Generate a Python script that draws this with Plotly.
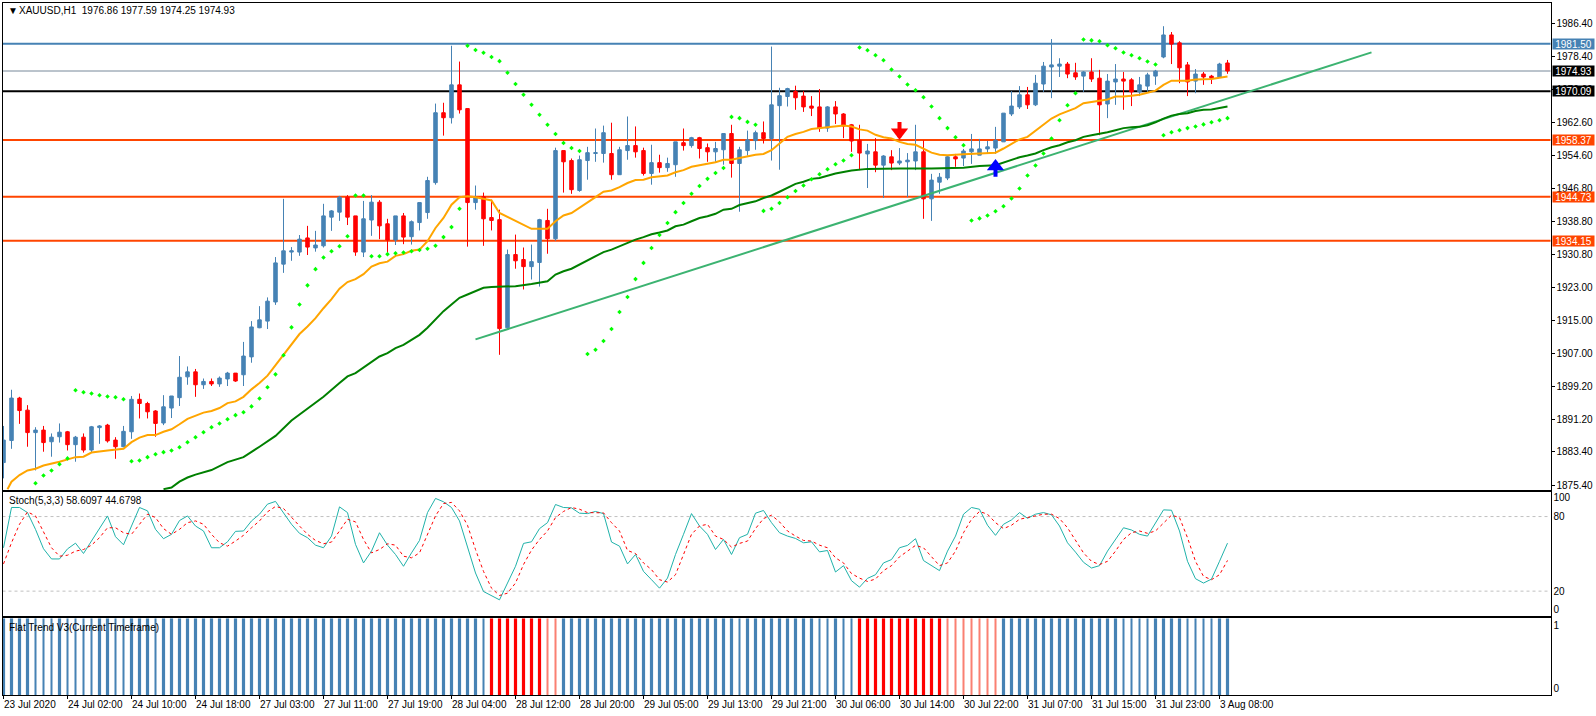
import plotly.graph_objects as go

open_ = [1880.8,1886.1,1896.3,1893.4,1888.0,1888.6,1885.8,1887.0,1888.2,1885.1,
1886.9,1883.8,1889.2,1889.8,1886.2,1884.6,1888.2,1896.0,1895.0,1893.2,
1890.3,1893.9,1896.4,1901.4,1902.6,1899.5,1900.3,1899.7,1900.9,1902.3,
1901.9,1906.2,1913.2,1914.8,1919.4,1928.5,1931.4,1931.4,1934.8,1932.4,
1932.9,1939.8,1941.0,1944.6,1940.1,1931.4,1939.1,1943.4,1938.2,1934.3,
1940.1,1935.1,1938.5,1940.9,1948.1,1964.9,1963.7,1971.6,1965.9,1943.3,
1944.7,1939.7,1939.2,1913.2,1930.8,1929.6,1927.9,1928.9,1939.0,1934.6,
1955.8,1953.4,1946.2,1953.4,1955.1,1955.1,1955.1,1950.0,1955.8,1957.0,
1955.8,1950.3,1952.9,1951.7,1952.4,1957.7,1957.0,1958.9,1956.5,1955.5,
1956.0,1959.9,1952.7,1955.8,1958.2,1960.1,1958.7,1966.6,1968.8,1970.0,
1968.9,1966.5,1966.3,1961.2,1966.3,1964.6,1962.0,1958.3,1955.0,1955.5,
1952.3,1954.3,1952.8,1953.1,1953.3,1955.5,1944.2,1948.2,1949.2,1954.3,
1954.0,1955.5,1954.7,1956.2,1956.4,1957.9,1964.6,1966.3,1969.2,1966.8,
1971.8,1975.9,1976.1,1976.6,1974.5,1973.7,1974.7,1973.2,1967.0,1972.3,
1973.0,1972.8,1969.9,1971.3,1973.7,1978.3,1983.6,1981.7,1976.4,1972.5,
1974.2,1973.7,1973.5,1976.86]
close = [1886.2,1896.3,1893.3,1888.0,1888.6,1885.6,1886.9,1888.1,1885.1,1886.9,
1883.8,1889.4,1889.6,1886.0,1884.6,1888.3,1896.0,1895.0,1893.0,1890.2,
1894.2,1896.8,1901.3,1902.6,1899.5,1900.3,1899.7,1901.1,1902.3,1900.4,
1906.4,1913.4,1915.1,1919.6,1928.8,1931.7,1931.7,1934.5,1932.6,1933.1,
1940.1,1941.3,1944.6,1939.8,1931.4,1939.4,1943.4,1937.7,1934.3,1940.1,
1935.0,1938.7,1943.3,1948.6,1964.9,1963.7,1971.6,1965.6,1943.3,1944.5,
1939.4,1939.0,1913.0,1930.8,1929.3,1927.9,1929.1,1939.2,1934.6,1955.8,
1953.1,1946.4,1953.6,1955.3,1955.3,1960.1,1950.0,1956.0,1957.0,1955.5,
1950.3,1952.9,1951.7,1952.7,1957.9,1957.0,1958.9,1956.3,1955.5,1956.3,
1959.9,1952.7,1956.0,1958.4,1960.1,1958.7,1966.8,1969.0,1970.7,1968.5,
1966.3,1966.0,1961.2,1966.3,1964.6,1961.7,1958.1,1955.2,1955.7,1952.3,
1954.5,1952.8,1953.3,1953.5,1955.5,1944.2,1948.7,1949.4,1954.3,1953.8,
1955.7,1956.2,1956.2,1956.7,1958.3,1964.8,1966.5,1969.2,1966.8,1972.0,
1976.1,1976.4,1976.6,1974.2,1973.5,1974.7,1973.0,1966.8,1972.5,1973.0,
1972.5,1969.9,1971.6,1974.0,1974.9,1983.6,1981.4,1975.7,1972.3,1974.2,
1973.5,1973.2,1976.6,1974.93]
high = [1889.6,1898.3,1896.6,1894.6,1889.3,1889.6,1887.8,1890.2,1888.4,1887.2,
1887.8,1889.6,1889.8,1890.1,1886.9,1889.6,1896.8,1897.4,1895.4,1893.4,
1897.0,1896.8,1906.4,1903.9,1903.3,1901.0,1901.0,1901.5,1902.6,1902.3,
1909.8,1914.8,1918.4,1920.5,1930.2,1944.2,1932.6,1935.5,1937.7,1936.5,
1943.0,1941.5,1944.9,1945.1,1940.1,1943.7,1945.1,1943.9,1939.4,1940.1,
1940.8,1939.0,1943.3,1949.5,1967.1,1967.3,1981.0,1977.2,1965.9,1947.4,
1945.7,1944.0,1941.6,1932.0,1935.6,1932.5,1933.2,1939.4,1941.8,1956.5,
1955.8,1953.9,1954.6,1956.7,1961.1,1961.8,1962.5,1956.7,1964.0,1961.6,
1956.5,1957.2,1954.8,1954.1,1957.9,1961.1,1959.1,1959.1,1957.5,1957.9,
1959.9,1962.0,1956.7,1960.6,1960.6,1962.8,1980.8,1970.9,1970.9,1971.4,
1970.1,1968.9,1970.6,1966.5,1967.7,1964.8,1962.2,1962.0,1957.4,1958.8,
1954.7,1955.9,1956.4,1955.2,1962.0,1958.3,1950.2,1950.4,1954.5,1955.0,
1956.2,1959.8,1958.6,1958.1,1961.5,1964.8,1970.1,1971.3,1971.1,1974.0,
1977.1,1982.6,1978.0,1977.1,1976.9,1974.9,1978.0,1975.2,1974.2,1976.6,
1974.7,1973.2,1973.5,1974.5,1975.2,1985.7,1984.3,1982.1,1977.1,1975.4,
1974.7,1974.0,1976.9,1977.59]
low = [1877.0,1884.1,1890.1,1884.6,1878.9,1883.4,1882.2,1885.6,1883.7,1881.0,
1883.2,1883.2,1885.3,1885.6,1881.7,1884.5,1886.5,1891.4,1891.4,1887.0,
1889.8,1891.5,1894.4,1899.5,1896.6,1898.5,1899.2,1899.0,1899.2,1900.2,
1899.2,1904.8,1913.1,1912.9,1918.7,1926.4,1929.3,1930.5,1930.7,1931.5,
1932.5,1936.5,1938.9,1937.9,1930.5,1930.2,1935.3,1934.5,1931.4,1933.1,
1933.3,1933.2,1936.6,1939.4,1947.6,1959.4,1962.3,1964.7,1932.7,1941.6,
1932.9,1936.6,1906.7,1912.8,1927.4,1922.4,1924.8,1923.1,1931.0,1934.1,
1945.7,1945.4,1945.9,1948.8,1953.1,1952.9,1948.8,1950.0,1953.6,1954.1,
1949.8,1947.6,1950.5,1950.7,1949.5,1955.8,1956.5,1953.9,1953.1,1953.1,
1952.4,1949.3,1941.1,1954.6,1956.0,1957.5,1953.4,1951.2,1966.4,1965.6,
1965.1,1964.1,1960.3,1960.3,1962.2,1958.8,1955.5,1951.1,1946.8,1950.6,
1944.4,1951.1,1952.3,1944.6,1951.1,1939.4,1938.9,1945.4,1948.7,1951.9,
1952.1,1952.6,1954.7,1955.0,1955.0,1957.9,1964.1,1965.8,1965.8,1966.5,
1969.9,1968.4,1973.5,1973.2,1972.8,1969.9,1972.3,1959.5,1963.6,1966.8,
1965.6,1966.5,1968.9,1969.9,1971.6,1978.0,1976.6,1972.0,1968.9,1969.6,
1971.6,1971.8,1973.4,1974.25]

ema_fast_i = [0.5,1,2,3,4,5,7,9,10,11,13,15,16,17,18,19,20,21,22,23,25,26,27,28,29,30,31,32,33,34,35,36,37,38,39,40,41,42,43,44,45,46,47,48,49,50,51,52,53,54,55,56,57,58,59,60,61,62,63,64,65,66,67,68,69,70,71,72,73,74,75,76,77,78,79,80,81,82,83,84,85,86,87,88,89,90,91,92,93,94,95,96,97,98,99,100,101,102,103,104,105,106,107,108,109,110,111,112,113,114,115,116,117,118,120,122,124,125,126,127,128,129,130,131,132,133,134,135,136,137,138,139,140,141,142,143,144,145,146,147,148,149,150,151,152,153]
ema_fast = [1874.4,1876.2,1877.8,1878.9,1879.3,1880.1,1881.0,1882.1,1882.2,1883.2,1883.7,1884.1,1885.7,1886.8,1887.4,1887.4,1888.2,1888.8,1890.0,1891.3,1892.8,1893.2,1893.9,1895.1,1895.5,1896.6,1898.4,1899.9,1901.7,1904.2,1906.9,1909.3,1911.7,1913.5,1915.5,1917.9,1920.1,1922.6,1924.2,1924.9,1926.1,1927.9,1928.7,1929.1,1930.5,1930.9,1931.7,1932.0,1934.0,1937.2,1939.6,1942.8,1944.6,1944.8,1944.6,1944.2,1943.8,1940.8,1939.8,1939.0,1938.0,1937.0,1937.0,1937.0,1938.8,1940.2,1940.8,1942.0,1943.2,1944.6,1945.9,1946.2,1947.0,1948.0,1948.7,1948.8,1949.4,1949.6,1949.8,1950.6,1951.1,1951.9,1952.3,1952.7,1953.0,1953.6,1953.6,1954.0,1954.4,1954.8,1955.0,1955.9,1957.5,1959.1,1959.8,1960.3,1961.0,1961.2,1961.4,1961.7,1961.8,1961.6,1960.9,1960.6,1959.6,1959.0,1958.7,1957.9,1957.4,1957.2,1956.3,1955.3,1954.8,1954.7,1954.9,1955.1,1955.3,1956.3,1957.3,1958.5,1959.1,1960.6,1962.2,1963.5,1964.5,1965.3,1966.0,1967.2,1967.5,1967.8,1968.1,1968.8,1968.8,1969.0,1969.2,1969.7,1970.2,1971.6,1972.6,1972.6,1972.6,1972.9,1972.9,1973.0,1973.3,1973.6]

ema_slow_i = [20,21,22,23,24,26,28,30,32,34,36,38,40,42,43,44,46,47,48,49,50,51,52,53,54,55,56,57,58,60,61,64,66,68,69,70,71,72,73,74,75,76,77,78,79,80,81,82,83,84,85,86,87,88,89,90,91,92,93,94,95,96,97,98,99,100,101,102,104,106,108,112,116,120,122,124,125,126,127,128,129,130,131,132,133,134,135,136,137,138,139,140,141,142,143,144,145,146,147,148,149,150,151,152,153]
ema_slow = [1874.4,1874.8,1876.2,1877.2,1877.9,1879.0,1880.9,1882.1,1884.6,1887.2,1890.9,1893.8,1896.6,1899.9,1901.5,1902.3,1905.1,1906.3,1907.1,1908.3,1909.1,1910.3,1911.5,1913.2,1915.2,1917.2,1918.8,1920.4,1921.2,1922.8,1923.0,1923.2,1923.7,1924.4,1926.0,1926.8,1927.4,1928.4,1929.4,1930.4,1931.4,1932.0,1932.8,1933.7,1934.4,1935.0,1935.7,1936.1,1936.6,1937.6,1938.0,1938.8,1939.6,1940.0,1940.6,1941.6,1941.8,1942.7,1943.2,1943.6,1944.4,1945.0,1945.9,1946.8,1947.8,1948.3,1949.0,1949.2,1950.3,1951.0,1951.4,1951.5,1951.5,1951.7,1952.1,1952.3,1952.9,1953.5,1954.2,1954.6,1955.1,1955.9,1956.6,1957.1,1957.8,1958.3,1959.1,1959.5,1959.8,1960.2,1960.7,1961.2,1961.4,1961.5,1961.9,1962.6,1963.5,1964.2,1964.6,1964.8,1965.3,1965.6,1965.7,1966.0,1966.4]

sar_i = [4,5,6,7,8,9,10,11,12,13,14,15,16,17,18,19,20,21,22,23,24,25,26,27,28,29,30,31,32,33,34,35,36,37,38,39,40,41,42,43,44,45,46,47,48,49,50,51,52,53,54,55,56,57,58,59,60,61,62,63,64,65,66,67,68,69,70,71,72,73,74,75,76,77,78,79,80,81,82,83,84,85,86,87,88,89,90,91,92,93,94,95,96,97,98,99,100,101,102,103,104,105,106,107,108,109,110,111,112,113,114,115,116,117,118,119,120,121,122,123,124,125,126,127,128,129,130,131,132,133,134,135,136,137,138,139,140,141,142,143,144,145,146,147,148,149,150,151,152,153]
sar = [1875.8,1877.7,1878.9,1880.4,1881.8,1898.2,1897.7,1897.4,1897.0,1896.7,1896.5,1896.0,1881.1,1881.3,1882.1,1882.8,1883.3,1883.7,1884.5,1885.7,1886.9,1888.1,1889.3,1890.2,1891.2,1892.2,1892.9,1894.3,1896.2,1898.9,1902.0,1906.6,1913.3,1918.8,1923.4,1927.3,1930.1,1931.6,1932.8,1935.2,1945.0,1945.0,1930.4,1930.4,1930.9,1931.1,1931.3,1931.6,1931.9,1932.2,1932.9,1935.0,1937.4,1941.8,1981.0,1980.0,1979.3,1978.3,1977.3,1974.5,1971.8,1969.2,1966.8,1964.4,1962.0,1959.8,1957.6,1956.4,1955.7,1906.9,1907.9,1910.0,1912.9,1917.0,1920.6,1924.9,1928.8,1932.4,1935.5,1938.4,1941.0,1943.2,1945.4,1947.3,1949.0,1950.4,1951.6,1963.9,1963.6,1962.7,1962.0,1941.3,1941.8,1943.2,1944.6,1946.1,1947.4,1948.9,1950.1,1951.3,1952.5,1953.4,1954.7,1980.6,1979.9,1978.7,1977.5,1975.3,1973.6,1971.7,1970.3,1968.6,1966.4,1963.6,1961.2,1959.0,1957.1,1939.0,1939.5,1940.2,1941.2,1942.4,1944.3,1946.7,1949.8,1952.2,1955.1,1958.7,1963.1,1966.7,1969.6,1982.5,1982.3,1982.1,1981.1,1980.4,1979.4,1978.7,1978.0,1977.2,1976.5,1959.5,1960.2,1960.7,1961.2,1961.6,1962.1,1962.6,1963.1,1963.6]

trend_i = [59,171]
trend = [1910.4,1979.4]

level_prices = [1981.50,1974.93,1970.09,1958.37,1944.73,1934.15]
level_labels = ["1981.50","1974.93","1970.09","1958.37","1944.73","1934.15"]

price_ticks = [1986.40,1978.40,1970.60,1962.60,1954.60,1946.80,1938.80,1930.80,1923.00,1915.00,1907.00,1899.20,1891.20,1883.40,1875.40]

stoch_main = [54.9,87.3,87.3,83.2,69.7,54.1,45.9,45.9,54.0,58.6,50.3,60.3,71.0,80.5,63.8,57.3,72.4,87.3,84.6,69.7,
62.2,65.7,76.8,80.5,72.4,68.4,54.9,54.9,59.7,68.1,68.4,76.5,81.9,90.0,92.2,83.2,73.8,66.5,63.0,57.0,
54.9,64.3,87.8,83.2,57.6,42.7,52.2,67.0,57.0,49.5,40.0,50.8,60.8,83.2,94.6,91.9,87.3,76.5,56.2,34.6,
19.7,16.5,13.0,26.5,40.0,58.4,59.7,70.3,75.1,89.7,87.3,87.0,82.7,82.4,84.1,82.4,59.5,56.2,41.9,49.5,
35.9,29.2,22.4,30.5,49.5,65.7,82.4,72.4,65.7,53.5,61.6,49.5,63.0,65.7,82.7,84.9,75.1,67.0,64.3,62.4,
58.9,59.7,51.6,52.7,35.4,40.5,28.4,23.2,30.3,33.2,42.7,45.4,54.9,56.8,62.2,44.6,40.5,36.5,52.2,64.3,
81.9,87.3,85.9,73.0,64.9,73.8,77.3,83.2,78.6,81.9,83.2,81.4,72.4,58.9,51.4,43.2,38.6,40.5,52.2,61.6,
71.0,69.2,65.7,64.3,75.1,85.4,85.1,68.4,44.0,30.0,26.5,29.7,44.0,58.61]
stoch_signal = [41.9,58.9,73.8,83.8,80.5,67.0,54.9,48.1,48.9,52.2,53.5,57.0,63.0,71.0,71.0,67.0,65.7,73.8,81.9,79.2,
70.3,65.7,69.7,75.1,76.5,73.8,65.7,58.9,56.2,60.3,64.9,71.0,76.5,83.8,88.1,86.5,79.2,72.4,65.7,60.8,
58.1,59.5,68.4,77.8,75.7,61.6,50.8,53.5,58.1,57.0,48.1,46.8,50.8,65.7,80.5,90.5,91.4,84.6,73.0,53.5,
35.9,22.4,16.5,18.4,26.5,41.4,53.0,61.6,68.4,79.2,84.1,87.3,85.9,83.2,83.0,83.0,75.1,68.4,52.7,50.3,
42.7,37.3,29.2,27.3,33.2,49.5,65.7,72.4,73.8,64.3,61.6,55.4,58.4,60.3,70.3,78.4,81.1,75.7,68.4,64.3,
60.8,60.3,57.0,54.9,46.8,42.7,34.1,30.5,27.8,29.7,36.5,40.5,47.6,52.2,56.8,54.9,48.1,40.5,42.7,52.2,
67.0,77.8,84.1,81.9,75.1,70.3,73.0,77.8,79.2,80.5,81.9,81.9,78.4,71.0,60.8,50.8,44.0,41.4,44.0,52.2,
61.6,67.0,68.4,66.5,68.4,75.1,81.1,79.2,63.0,44.0,31.9,29.2,33.2,44.68]

# U wide up, u thin up, D wide down, d thin down
flat_state = ("UUUUuuuUuuuuUUuuUUUu"
              "UUUUUUUUUUUUUUUUUUUUUUUUUUUUUUUUUUUUUUUU"
              "uDDDDDDDdd"
              "UUUUUUUUUUUUUUUUUUUUUU"
              "uUUUUUUUUUuuUuu"
              "DDDDDDDDDDDddddddd"
              "UUUUUUUUUUUUUUUuuuuUUUUuuuuUU")

time_ticks = ["23 Jul 2020","24 Jul 02:00","24 Jul 10:00","24 Jul 18:00","27 Jul 03:00","27 Jul 11:00","27 Jul 19:00",
              "28 Jul 04:00","28 Jul 12:00","28 Jul 20:00","29 Jul 05:00","29 Jul 13:00","29 Jul 21:00","30 Jul 06:00",
              "30 Jul 14:00","30 Jul 22:00","31 Jul 07:00","31 Jul 15:00","31 Jul 23:00","3 Aug 08:00"]

W, H = 1596, 716
BLUE, RED, ORANGERED = "#4682B4", "#FF0000", "#FF4500"
FONT = "Liberation Sans"
FS = 10
bars = list(range(len(open_)))
tick_bars = bars[::8]
xr = [-0.125, 193.375]
yr = [1874.2, 1991.4]

fig = go.Figure()
fig.add_trace(go.Scatter(x=trend_i, y=trend, mode="lines", line=dict(color="#3CB371", width=2), xaxis="x", yaxis="y", hoverinfo="skip"))
fig.add_trace(go.Scatter(x=ema_slow_i, y=ema_slow, mode="lines", line=dict(color="#008000", width=2), xaxis="x", yaxis="y"))
fig.add_trace(go.Scatter(x=ema_fast_i, y=ema_fast, mode="lines", line=dict(color="#FFA500", width=2), xaxis="x", yaxis="y"))
fig.add_trace(go.Scatter(x=sar_i, y=sar, mode="markers", marker=dict(color="#00FF00", size=3.5, symbol="diamond"), xaxis="x", yaxis="y"))
fig.add_trace(go.Candlestick(x=bars, open=open_, high=high, low=low, close=close, xaxis="x", yaxis="y",
    increasing=dict(line=dict(color=BLUE, width=1), fillcolor=BLUE),
    decreasing=dict(line=dict(color=RED, width=1), fillcolor=RED), whiskerwidth=0))
# signal arrows
fig.add_trace(go.Scatter(x=[112,112], y=[1962.7,1959.0], mode="lines", line=dict(color=RED, width=4), xaxis="x", yaxis="y"))
fig.add_trace(go.Scatter(x=[112], y=[1960.2], mode="markers", marker=dict(symbol="triangle-down", size=15, color=RED), xaxis="x", yaxis="y"))
fig.add_trace(go.Scatter(x=[124,124], y=[1949.5,1953.0], mode="lines", line=dict(color="#0000FF", width=4), xaxis="x", yaxis="y"))
fig.add_trace(go.Scatter(x=[124], y=[1952.0], mode="markers", marker=dict(symbol="triangle-up", size=15, color="#0000FF"), xaxis="x", yaxis="y"))

fig.add_trace(go.Scatter(x=bars, y=stoch_main, mode="lines", line=dict(color="#20B2AA", width=1), xaxis="x2", yaxis="y2"))
fig.add_trace(go.Scatter(x=bars, y=stoch_signal, mode="lines", line=dict(color=RED, width=1, dash="3px,3px"), xaxis="x2", yaxis="y2"))

flat_color = [{"U": BLUE, "u": BLUE, "D": RED, "d": "#FA8072"}[s] for s in flat_state]
flat_width = [0.4 if s in "UD" else 0.125 for s in flat_state]
fig.add_trace(go.Bar(x=bars, y=[1]*len(bars), width=flat_width, marker=dict(color=flat_color, line=dict(width=0)), xaxis="x3", yaxis="y3"))

level_colors = [BLUE, "#778899", "#000000", ORANGERED, ORANGERED, ORANGERED]
level_widths = [2, 1, 2, 2, 2, 2]
shapes = []
for p, c, w in zip(level_prices, level_colors, level_widths):
    shapes.append(dict(type="line", xref="x domain", yref="y", x0=0, x1=1, y0=p, y1=p, layer="below", line=dict(color=c, width=w)))
for p in (80, 20):
    shapes.append(dict(type="line", xref="x2 domain", yref="y2", x0=0, x1=1, y0=p, y1=p, layer="below", line=dict(color="#C0C0C0", width=1, dash="3px,3px")))

anns = []
def note(text, px, py, color="#000000", **kw):
    anns.append(dict(text=text, x=px / W, y=1 - py / H, xref="paper", yref="paper", xanchor="left", yanchor="middle",
                     showarrow=False, font=dict(family=FONT, size=FS, color=color), **kw))
note("XAUUSD,H1  1976.86 1977.59 1974.25 1974.93", 17, 10.5)
note("▼", 5.5, 10.5)
note("Stoch(5,3,3) 58.6097 44.6798", 7, 500.5)
note("Flat Trend V3(Current Timeframe)", 7, 627)
flag_colors = [BLUE, "#000000", "#000000", ORANGERED, ORANGERED, ORANGERED]
for lab, p, c in zip(level_labels, level_prices, flag_colors):
    anns.append(dict(text=lab, x=1552 / W, y=p, xref="paper", yref="y", xanchor="left", yanchor="middle", showarrow=False,
                     width=41, height=10, align="center", bgcolor=c, borderpad=0, font=dict(family=FONT, size=FS, color="#FFFFFF")))
for lab, b in zip(time_ticks, tick_bars):
    anns.append(dict(text=lab, x=b, y=1 - 704 / H, xref="x3", yref="paper", xanchor="left", yanchor="middle", showarrow=False,
                     xshift=-2, font=dict(family=FONT, size=FS, color="#000000")))

def xa(domain_anchor, **kw):
    return dict(range=xr, domain=[2.5 / W, 1550.5 / W], anchor=domain_anchor, showgrid=False, zeroline=False, showline=True,
                mirror=True, linecolor="#000000", linewidth=1, showticklabels=False, ticks="", rangeslider=dict(visible=False), **kw)
def ya(top, bottom, rng, anchor, **kw):
    return dict(range=rng, domain=[1 - bottom / H, 1 - top / H], anchor=anchor, side="right", showgrid=False, zeroline=False, showline=True,
                mirror=True, linecolor="#000000", linewidth=1, tickfont=dict(family=FONT, size=FS, color="#000000"), **kw)

fig.update_layout(
    width=W, height=H, margin=dict(l=0, r=0, t=0, b=0), autosize=False, paper_bgcolor="#FFFFFF", plot_bgcolor="#FFFFFF",
    showlegend=False, barmode="overlay", boxgap=0.375, shapes=shapes, annotations=anns, dragmode=False,
    xaxis=xa("y"),
    xaxis2=xa("y2"),
    xaxis3=dict(xa("y3"), ticks="outside", ticklen=3, tickcolor="#000000", tickmode="array", tickvals=tick_bars),
    yaxis=ya(2.5, 490, yr, "x", tickmode="array", tickvals=price_ticks, ticktext=[f"{v:.2f}" for v in price_ticks], ticks="outside", ticklen=3, tickcolor="#000000"),
    yaxis2=ya(491.7, 616, [0, 100], "x2", tickmode="array", tickvals=[95.5, 80, 20, 5.4], ticktext=["100", "80", "20", "0"], ticks=""),
    yaxis3=ya(618.3, 695.3, [0, 1], "x3", tickmode="array", tickvals=[0.909, 0.09], ticktext=["1", "0"], ticks=""),
)
fig.write_html("out.html", config=dict(displayModeBar=False), post_script="document.body.style.margin='0';document.body.style.overflow='hidden';")
